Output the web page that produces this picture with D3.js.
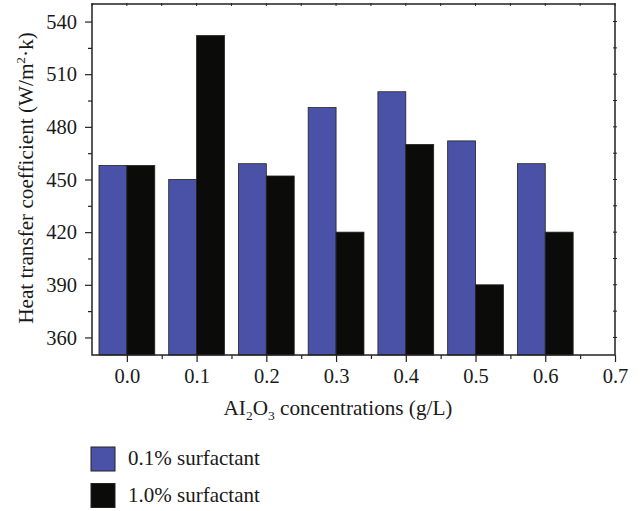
<!DOCTYPE html>
<html><head><meta charset="utf-8">
<script src="https://cdn.jsdelivr.net/npm/d3@7"></script>
<style>body{margin:0;background:#fff}svg{display:block}text{font-family:"Liberation Serif","Times New Roman",serif;fill:#1a1a1a}</style>
</head><body>
<script>
const categories = [0.0, 0.1, 0.2, 0.3, 0.4, 0.5, 0.6];
const series01 = [458, 450, 459, 491, 500, 472, 459];
const series10 = [458, 532, 452, 420, 470, 390, 420];
const xTicks = [0.0, 0.1, 0.2, 0.3, 0.4, 0.5, 0.6, 0.7];
const yTicks = [360, 390, 420, 450, 480, 510, 540];
const seriesNames = ["0.1% surfactant", "1.0% surfactant"];
const colors = ["#4a52a8", "#0b0b09"];

const W = 640, H = 511;
const L = 92, R = 615, T = 4, B = 355;
const svg = d3.select("body").append("svg").attr("width", W).attr("height", H);
const x = d3.scaleLinear().domain([-0.05, 0.7]).range([L, R]);
const y = d3.scaleLinear().domain([350, 550]).range([B, T]);
const bw = 0.04;
const fmt = d3.format(".1f");

const g = svg.append("g");
const series = [series01, series10];
series.forEach((vals, si) => {
  g.selectAll(null).data(categories).enter().append("rect")
    .attr("x", (d) => si === 0 ? x(d - bw) : x(d))
    .attr("width", x(bw) - x(0))
    .attr("y", (d, i) => y(vals[i]))
    .attr("height", (d, i) => y(350) - y(vals[i]))
    .attr("fill", colors[si]).attr("stroke", "#222").attr("stroke-width", 0.8);
});

const minorY = d3.range(360, 551, 15).filter(v => v % 30 !== 0);
const minorX = d3.range(-0.05, 0.701, 0.1).map(v => +v.toFixed(2)).filter(v => v > -0.05);
const allX = d3.range(-0.05, 0.701, 0.05).map(v => +v.toFixed(2));
const allY = d3.range(360, 541, 15);

function styleAxis(sel){ sel.select(".domain").remove(); sel.selectAll("line").attr("stroke", "#222").attr("stroke-width", 1.2); }

// left
const ax = svg.append("g").attr("transform", `translate(${L},0)`)
  .call(d3.axisLeft(y).tickValues(yTicks).tickSize(7).tickPadding(8));
styleAxis(ax); ax.selectAll("text").attr("font-size", 20.5);
svg.append("g").attr("transform", `translate(${L},0)`)
  .call(d3.axisLeft(y).tickValues(minorY).tickSize(4).tickFormat("")).call(styleAxis);
// bottom
const bx = svg.append("g").attr("transform", `translate(0,${B})`)
  .call(d3.axisBottom(x).tickValues(xTicks).tickSize(7).tickPadding(6).tickFormat(fmt));
styleAxis(bx); bx.selectAll("text").attr("font-size", 20.5);
svg.append("g").attr("transform", `translate(0,${B})`)
  .call(d3.axisBottom(x).tickValues(minorX).tickSize(4).tickFormat("")).call(styleAxis);
// top & right small crossing ticks
svg.append("g").selectAll("line").data(allX).enter().append("line")
  .attr("x1", d => x(d)).attr("x2", d => x(d)).attr("y1", T - 1).attr("y2", T + 2)
  .attr("stroke", "#222").attr("stroke-width", 1);
svg.append("g").selectAll("line").data(allY).enter().append("line")
  .attr("x1", R - 2).attr("x2", R + 2).attr("y1", d => y(d)).attr("y2", d => y(d))
  .attr("stroke", "#222").attr("stroke-width", 1);
// frame
svg.append("rect").attr("x", L).attr("y", T).attr("width", R - L).attr("height", B - T)
  .attr("fill", "none").attr("stroke", "#222").attr("stroke-width", 1.5);

// y label
const yl = svg.append("text").attr("transform", "translate(33,178) rotate(-90)")
  .attr("text-anchor", "middle").attr("font-size", 21.2);
yl.append("tspan").text("Heat transfer coefficient (W/m");
yl.append("tspan").text("2").attr("font-size", 13.5).attr("dy", -8);
yl.append("tspan").text("·k)").attr("dy", 8);

// x label
const xl = svg.append("text").attr("x", 338).attr("y", 415).attr("text-anchor", "middle").attr("font-size", 21.2);
xl.append("tspan").text("AI");
xl.append("tspan").text("2").attr("font-size", 13.5).attr("dy", 5);
xl.append("tspan").text("O").attr("dy", -5);
xl.append("tspan").text("3").attr("font-size", 13.5).attr("dy", 5);
xl.append("tspan").text(" concentrations (g/L)").attr("dy", -5);

// legend
const leg = svg.append("g");
seriesNames.forEach((n, i) => {
  const yy = 447 + i * 36.5;
  leg.append("rect").attr("x", 91).attr("y", yy).attr("width", 24).attr("height", 24)
    .attr("fill", colors[i]).attr("stroke", "#222").attr("stroke-width", 1);
  leg.append("text").attr("x", 128).attr("y", yy + 18).attr("font-size", 21).text(n);
});
</script>
</body></html>
